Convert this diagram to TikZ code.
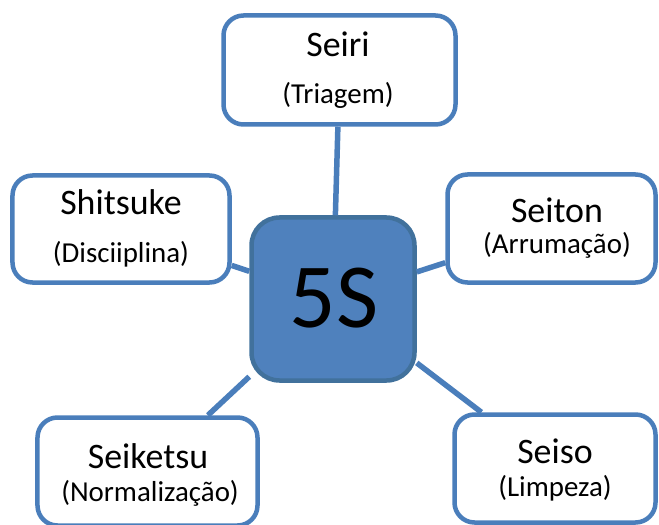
\documentclass[tikz,border=0pt]{standalone}
\usepackage{fontspec}
\setmainfont{Carlito}
\definecolor{boxline}{HTML}{4A7EBB}
\definecolor{hubfill}{HTML}{4F81BD}
\definecolor{hubline}{HTML}{41719C}
\tikzset{
  outerbox/.style={draw=boxline, line width=4.5bp, fill=white, rounded corners=20bp, inner sep=0pt},
  hubbox/.style={draw=hubline, line width=4.5bp, fill=hubfill, rounded corners=28bp, inner sep=0pt, minimum width=163bp, minimum height=163bp},
  link/.style={draw=boxline, line width=5.5bp},
  titletext/.style={anchor=base, font=\fontsize{36}{40}\selectfont, inner sep=0pt},
  subtext/.style={anchor=base, font=\fontsize{29}{32}\selectfont, inner sep=0pt}
}
\begin{document}
\begin{tikzpicture}[x=1bp,y=-1bp]
\useasboundingbox (0,0) rectangle (659,525);
\clip (0,0) rectangle (659,525);
\node[hubbox] (hub) at (333,299) {};
\node[outerbox, minimum width=232bp, minimum height=109bp] (seiri) at (339.5,70) {};
\node[outerbox, minimum width=217bp, minimum height=107bp] (shitsuke) at (121,229) {};
\node[outerbox, minimum width=208bp, minimum height=108bp] (seiton) at (551.5,228.5) {};
\node[outerbox, minimum width=220bp, minimum height=108bp] (seiketsu) at (147.5,471.5) {};
\node[outerbox, minimum width=201bp, minimum height=108bp] (seiso) at (555,468.5) {};
\path[link] (hub) -- (seiri);
\path[link] (hub) -- (shitsuke);
\path[link] (hub) -- (seiton);
\path[link] (hub) -- (seiketsu);
\path[link] (hub) -- (seiso);
\node[anchor=base, inner sep=0pt, font=\fontsize{92}{96}\selectfont] (hubt) at (334,327) {5S};
\node[titletext] (seirit) at (338,57) {Seiri};
\node[subtext] (seiris) at (338,104) {(Triagem)};
\node[titletext] (shitsuket) at (121,215) {Shitsuke};
\node[subtext] (shitsukes) at (121,263) {(Disciiplina)};
\node[titletext] (seitont) at (557,223) {Seiton};
\node[subtext] (seitons) at (557,254) {(Arrumação)};
\node[titletext] (seiketsut) at (148,468) {Seiketsu};
\node[subtext] (seiketsus) at (150,501) {(Normalização)};
\node[titletext] (seisot) at (555,463) {Seiso};
\node[subtext] (seisos) at (555,496) {(Limpeza)};
\end{tikzpicture}
\end{document}
